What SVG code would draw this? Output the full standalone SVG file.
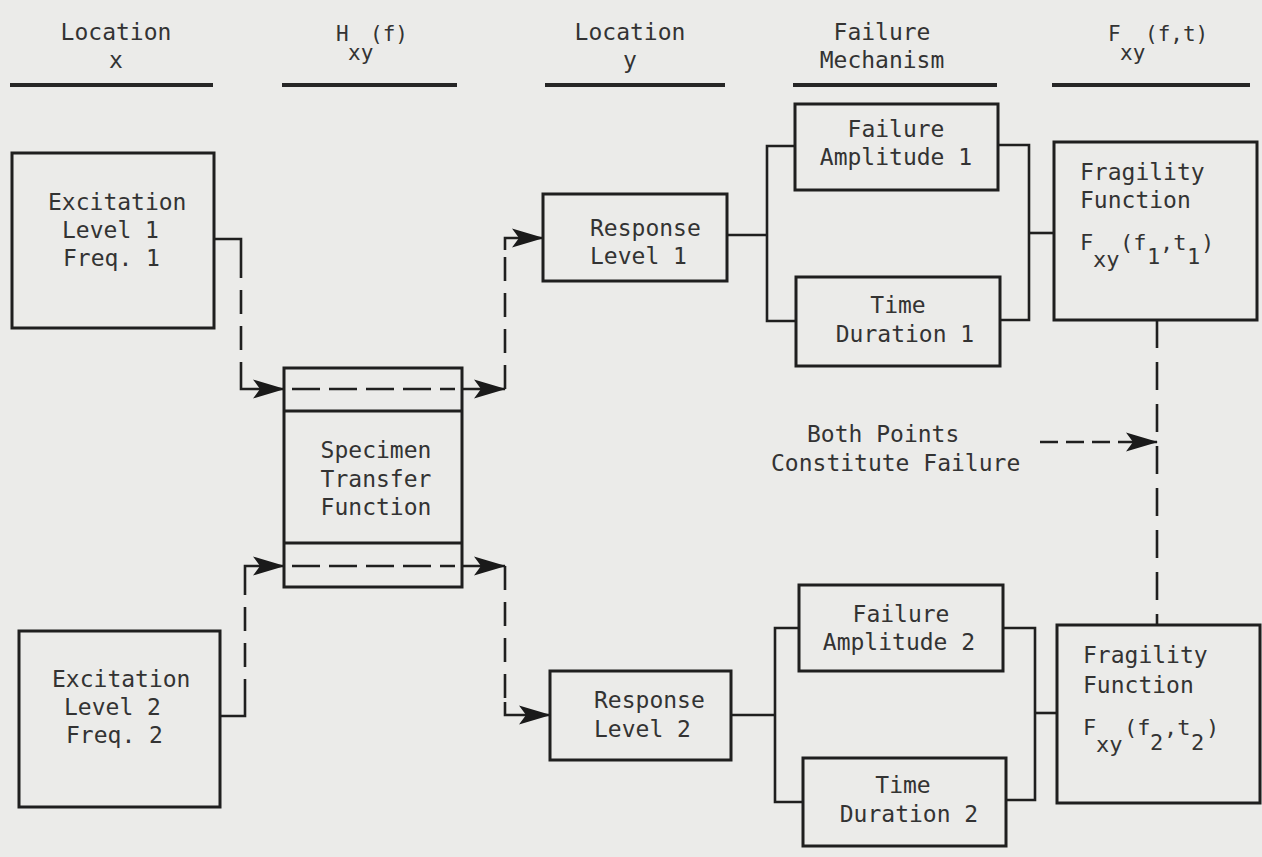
<svg xmlns="http://www.w3.org/2000/svg" width="1262" height="857" viewBox="0 0 1262 857">
  <style>
    .bg { fill: #ebebe9; }
    .box { fill: none; stroke: #1f1f1f; stroke-width: 3; }
    .rule { stroke: #262626; stroke-width: 4; }
    .wire { fill: none; stroke: #1f1f1f; stroke-width: 2.6; }
    .dash { fill: none; stroke: #1f1f1f; stroke-width: 2.6; stroke-dasharray: 24 12; }
    .dash-in { fill: none; stroke: #1f1f1f; stroke-width: 2.6; stroke-dasharray: 28 9; }
    .arrow { fill: none; stroke: #1f1f1f; stroke-width: 2.6; marker-end: url(#head); }
    text { font-family: "DejaVu Sans Mono", "Liberation Mono", monospace; font-size: 23px; fill: #333; }
    .mid { text-anchor: middle; }
    .f { font-size: 22px; }
    .hf { font-size: 21px; }
  </style>
  <defs>
    <marker id="head" viewBox="-33 -11 35 22" refX="0" refY="0" markerWidth="35" markerHeight="22" markerUnits="userSpaceOnUse" orient="auto">
      <path d="M1,0 L-31,-9.5 L-24,0 L-31,9.5 Z" fill="#1a1a1a"/>
    </marker>
  </defs>

  <rect class="bg" x="0" y="0" width="1262" height="857"/>

  <!-- column headings -->
  <g id="headings">
    <text class="mid" x="116" y="40">Location</text>
    <text class="mid" x="116" y="68">x</text>
    <line class="rule" x1="10" y1="85" x2="213" y2="85"/>

    <text class="hf" x="336" y="41">H<tspan x="348" dy="19">xy</tspan><tspan x="370" dy="-19">(f)</tspan></text>
    <line class="rule" x1="282" y1="85" x2="457" y2="85"/>

    <text class="mid" x="630" y="40">Location</text>
    <text class="mid" x="630" y="68">y</text>
    <line class="rule" x1="545" y1="85" x2="725" y2="85"/>

    <text class="mid" x="882" y="40">Failure</text>
    <text class="mid" x="882" y="68">Mechanism</text>
    <line class="rule" x1="793" y1="85" x2="997" y2="85"/>

    <text class="hf" x="1108" y="41">F<tspan x="1120" dy="19">xy</tspan><tspan x="1145" dy="-19">(f,t)</tspan></text>
    <line class="rule" x1="1052" y1="85" x2="1250" y2="85"/>
  </g>

  <!-- connectors -->
  <g id="connectors">
    <!-- excitation 1 into the transfer function -->
    <path class="wire" d="M214,239 H241 V254"/>
    <path class="dash" d="M241,254 V376"/>
    <path class="arrow" d="M241,376 V389 H284"/>
    <path class="dash-in" d="M292,389 H455"/>
    <path class="arrow" d="M462,389 H505"/>
    <path class="dash" d="M505,389 V250"/>
    <path class="arrow" d="M505,250 V238 H543"/>

    <!-- excitation 2 into the transfer function -->
    <path class="wire" d="M220,716 H245 V703"/>
    <path class="dash" d="M245,703 V578"/>
    <path class="arrow" d="M245,578 V566 H284"/>
    <path class="dash-in" d="M292,566 H455"/>
    <path class="arrow" d="M462,566 H505"/>
    <path class="dash" d="M505,566 V702"/>
    <path class="arrow" d="M505,702 V715 H550"/>

    <!-- response 1 to its failure criteria -->
    <path class="wire" d="M727,235 H767"/>
    <path class="wire" d="M795,146 H767 V321 H796"/>
    <path class="wire" d="M998,145 H1029 V320 H1000"/>
    <path class="wire" d="M1029,233 H1054"/>

    <!-- response 2 to its failure criteria -->
    <path class="wire" d="M731,715 H775"/>
    <path class="wire" d="M799,628 H775 V802 H803"/>
    <path class="wire" d="M1003,628 H1035 V800 H1006"/>
    <path class="wire" d="M1035,713 H1057"/>

    <!-- link between the two fragility points -->
    <path class="dash" style="stroke-dasharray: 28 14" d="M1157,320 V625"/>
    <path class="dash" style="stroke-dasharray: 18 8" d="M1040,442 H1124"/>
    <path class="arrow" d="M1124,442 H1157"/>
  </g>

  <!-- nodes -->
  <g id="excitation-1">
    <rect class="box" x="12" y="153" width="202" height="175"/>
    <text x="48" y="210">Excitation</text>
    <text x="62" y="238">Level 1</text>
    <text x="63" y="266">Freq. 1</text>
  </g>

  <g id="excitation-2">
    <rect class="box" x="19" y="631" width="201" height="176"/>
    <text x="52" y="687">Excitation</text>
    <text x="64" y="715">Level 2</text>
    <text x="66" y="743">Freq. 2</text>
  </g>

  <g id="transfer-function">
    <rect class="box" x="284" y="368" width="178" height="219"/>
    <line class="box" x1="284" y1="411" x2="462" y2="411"/>
    <line class="box" x1="284" y1="543" x2="462" y2="543"/>
    <text class="mid" x="376" y="458">Specimen</text>
    <text class="mid" x="376" y="487">Transfer</text>
    <text class="mid" x="376" y="515">Function</text>
  </g>

  <g id="response-1">
    <rect class="box" x="543" y="194" width="184" height="87"/>
    <text x="590" y="236">Response</text>
    <text x="590" y="264">Level 1</text>
  </g>

  <g id="response-2">
    <rect class="box" x="550" y="671" width="181" height="89"/>
    <text x="594" y="708">Response</text>
    <text x="594" y="737">Level 2</text>
  </g>

  <g id="amplitude-1">
    <rect class="box" x="795" y="104" width="203" height="86"/>
    <text class="mid" x="896" y="137">Failure</text>
    <text class="mid" x="896" y="165">Amplitude 1</text>
  </g>

  <g id="duration-1">
    <rect class="box" x="796" y="277" width="204" height="89"/>
    <text class="mid" x="898" y="313">Time</text>
    <text class="mid" x="905" y="342">Duration 1</text>
  </g>

  <g id="amplitude-2">
    <rect class="box" x="799" y="585" width="204" height="86"/>
    <text class="mid" x="901" y="622">Failure</text>
    <text class="mid" x="899" y="650">Amplitude 2</text>
  </g>

  <g id="duration-2">
    <rect class="box" x="803" y="758" width="203" height="88"/>
    <text class="mid" x="903" y="793">Time</text>
    <text class="mid" x="909" y="822">Duration 2</text>
  </g>

  <g id="fragility-1">
    <rect class="box" x="1054" y="142" width="203" height="178"/>
    <text x="1080" y="180">Fragility</text>
    <text x="1080" y="208">Function</text>
    <text class="f" x="1080" y="250">F<tspan x="1093" dy="17">xy</tspan><tspan x="1120" dy="-17">(f</tspan><tspan x="1147" dy="14">1</tspan><tspan x="1160" dy="-14">,t</tspan><tspan x="1187" dy="14">1</tspan><tspan x="1201" dy="-14">)</tspan></text>
  </g>

  <g id="fragility-2">
    <rect class="box" x="1057" y="625" width="203" height="178"/>
    <text x="1083" y="663">Fragility</text>
    <text x="1083" y="693">Function</text>
    <text class="f" x="1083" y="735">F<tspan x="1096" dy="17">xy</tspan><tspan x="1124" dy="-17">(f</tspan><tspan x="1150" dy="15">2</tspan><tspan x="1164" dy="-15">,t</tspan><tspan x="1191" dy="15">2</tspan><tspan x="1206" dy="-15">)</tspan></text>
  </g>

  <g id="failure-note">
    <text x="807" y="442">Both Points</text>
    <text x="771" y="471">Constitute Failure</text>
  </g>
</svg>
